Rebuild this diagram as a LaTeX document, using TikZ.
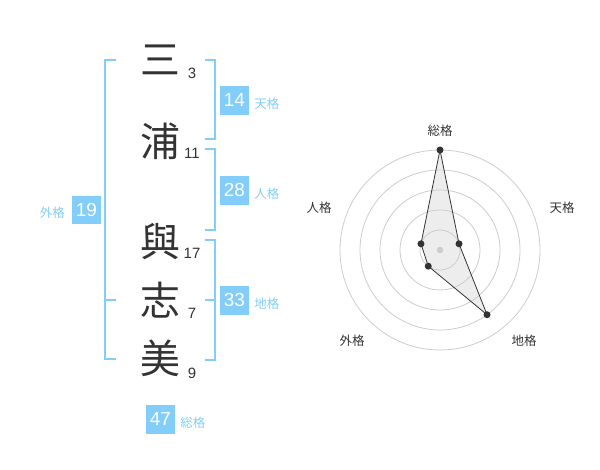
\documentclass[tikz,border=0pt]{standalone}
\usepackage{fontspec}
\setmainfont{Liberation Sans}
\newfontfamily\jfont{Noto Sans CJK JP}
\usetikzlibrary{positioning}
\definecolor{kakublue}{HTML}{82CDFA}
\definecolor{inkgray}{HTML}{333333}
\definecolor{ringgray}{HTML}{CCCCCC}
\tikzset{
  kanji/.style={text=inkgray,inner sep=0pt,font=\jfont\fontsize{40}{40}\selectfont},
  strokes/.style={text=inkgray,inner sep=0pt,font=\fontsize{15}{15}\selectfont},
  kakubox/.style={fill=kakublue,text=white,minimum size=28.5bp,inner sep=0pt,font=\fontsize{19}{19}\selectfont},
  kakulabel/.style={text=kakublue,inner sep=0pt,yshift=-3bp,font=\jfont\fontsize{12.5}{12.5}\selectfont},
  bracket/.style={draw=kakublue,line width=2bp},
  axislabel/.style={text=inkgray,inner sep=0pt,font=\jfont\fontsize{12.5}{12.5}\selectfont}
}
\begin{document}
\begin{tikzpicture}[x=1bp,y=-1bp]
    \useasboundingbox (0,0) rectangle (600,470);

    % name and stroke counts
    \foreach \k/\y/\n/\sy [count=\i] in {三/60/3/73, 浦/141/11/153, 與/242/17/253, 志/300/7/313, 美/358/9/373}{%
        \node [kanji] (k\i) at (160,\y) {\k};
        \node [strokes] (s\i) at (192,\sy) {\n};}

    % brackets
    \draw [bracket] (116,60) -- (105,60) -- (105,359) -- (116,359);
    \draw [bracket] (105,300) -- (116,300);
    \draw [bracket] (205,60) -- (214.5,60) -- (214.5,139.5) -- (205,139.5);
    \draw [bracket] (205,149.5) -- (214.5,149.5) -- (214.5,230) -- (205,230);
    \draw [bracket] (205,240) -- (214.5,240) -- (214.5,359.5) -- (205,359.5);
    \draw [bracket] (205,300) -- (214.5,300);

    % kaku boxes
    \node [kakubox] (gaikaku) at (86.5,210) {19};
    \node [kakulabel, left=7bp of gaikaku] (gaikakuL) {外格};
    \node [kakubox] (tenkaku) at (234.3,100.3) {14};
    \node [kakulabel, right=5.5bp of tenkaku] (tenkakuL) {天格};
    \node [kakubox] (jinkaku) at (234.3,190.3) {28};
    \node [kakulabel, right=5.5bp of jinkaku] (jinkakuL) {人格};
    \node [kakubox] (chikaku) at (234.3,300.3) {33};
    \node [kakulabel, right=5.5bp of chikaku] (chikakuL) {地格};
    \node [kakubox] (soukaku) at (160.3,419.3) {47};
    \node [kakulabel, right=5.5bp of soukaku] (soukakuL) {総格};

    % radar chart
    \begin{scope}[shift={(440,250)},yscale=-1]
    \foreach \r in {20,40,...,100}{%
        \draw [ringgray, line width=0.8bp] (0,0) circle [radius=\r];}
    \coordinate (pSou) at (90:100);
    \coordinate (pTen) at (18:20);
    \coordinate (pChi) at (-54:80);
    \coordinate (pGai) at (234:20);
    \coordinate (pJin) at (162:20);
    \fill [ringgray] (0,0) circle [radius=3.3];
    \draw [fill=ringgray, fill opacity=0.35, draw=inkgray, line width=0.8bp]
        (pSou) -- (pTen) -- (pChi) -- (pGai) -- (pJin) -- cycle;
    \foreach \p in {pSou,pTen,pChi,pGai,pJin}{%
        \fill [inkgray] (\p) circle [radius=3.5];}
    \end{scope}

    \node [axislabel] (aSou) at (440,131) {総格};
    \node [axislabel] (aTen) at (562,208) {天格};
    \node [axislabel] (aChi) at (524,341) {地格};
    \node [axislabel] (aGai) at (352,341) {外格};
    \node [axislabel] (aJin) at (319,208) {人格};
\end{tikzpicture}
\end{document}
